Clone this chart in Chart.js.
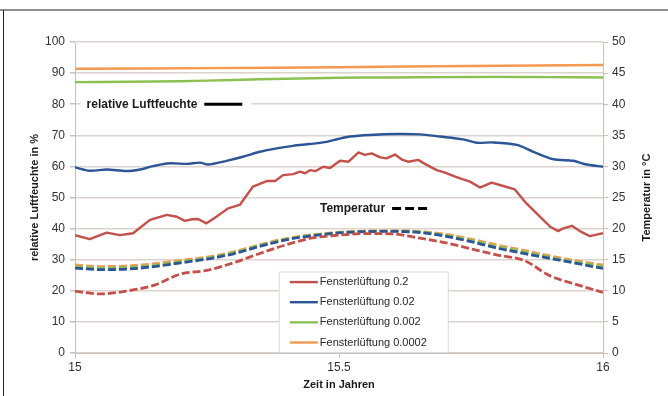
<!DOCTYPE html>
<html>
<head>
<meta charset="utf-8">
<script src="https://cdn.jsdelivr.net/npm/chart.js@4.4.1/dist/chart.umd.min.js"></script>
<style>
  html, body { margin: 0; padding: 0; background: #ffffff; }
  #wrap { width: 668px; height: 396px; position: relative; }
</style>
</head>
<body>
<div id="wrap"><canvas id="c" width="668" height="396"></canvas></div>
<script>
// Time axis in years
const xTicks = [15, 15.5, 16];
const seriesLabels = ['Fensterlüftung 0.2', 'Fensterlüftung 0.02', 'Fensterlüftung 0.002', 'Fensterlüftung 0.0002'];
const seriesColors = ['#c4504a', '#2c5596', '#8cc152', '#f39a50'];

// Relative humidity in % (left axis)
const rhRedYears = [15.000, 15.028, 15.060, 15.085, 15.110, 15.142, 15.174, 15.193, 15.208, 15.222, 15.233, 15.249, 15.265, 15.290, 15.312, 15.337, 15.363, 15.379, 15.394, 15.413, 15.426, 15.436, 15.445, 15.456, 15.470, 15.483, 15.502, 15.518, 15.537, 15.549, 15.562, 15.578, 15.590, 15.606, 15.619, 15.631, 15.650, 15.666, 15.685, 15.701, 15.720, 15.735, 15.748, 15.767, 15.789, 15.811, 15.833, 15.855, 15.881, 15.900, 15.915, 15.925, 15.941, 15.956, 15.975, 15.994, 16.000];
const rhRed = [37.9, 36.6, 38.7, 37.9, 38.5, 42.8, 44.4, 43.8, 42.5, 43.0, 43.1, 41.7, 43.5, 46.5, 47.6, 53.5, 55.3, 55.3, 57.2, 57.5, 58.3, 57.8, 58.8, 58.5, 59.9, 59.5, 61.8, 61.5, 64.5, 63.7, 64.2, 62.9, 62.6, 63.8, 62.2, 61.5, 62.1, 60.5, 58.8, 58.0, 56.7, 55.8, 55.1, 53.2, 54.8, 53.7, 52.6, 48.1, 43.8, 40.6, 39.2, 40.1, 40.9, 39.2, 37.6, 38.3, 38.5];

const rhBlueYears = [15.000, 15.028, 15.060, 15.098, 15.123, 15.148, 15.180, 15.212, 15.237, 15.252, 15.287, 15.318, 15.350, 15.382, 15.413, 15.445, 15.477, 15.498, 15.521, 15.559, 15.609, 15.653, 15.691, 15.735, 15.761, 15.792, 15.837, 15.868, 15.906, 15.944, 15.969, 16.000];
const rhBlue = [59.7, 58.6, 59.0, 58.5, 59.0, 60.1, 61.0, 60.8, 61.2, 60.6, 61.8, 63.1, 64.7, 65.8, 66.6, 67.2, 67.9, 68.8, 69.6, 70.1, 70.4, 70.3, 69.6, 68.7, 67.6, 67.7, 66.9, 64.7, 62.3, 61.8, 60.6, 59.9];

const rhGreenYears = [15.0, 15.1, 15.2, 15.3, 15.4, 15.5, 15.6, 15.7, 15.8, 15.9, 16.0];
const rhGreen = [87.1, 87.2, 87.4, 87.8, 88.2, 88.5, 88.6, 88.7, 88.8, 88.7, 88.6];

const rhOrangeYears = [15.0, 15.25, 15.5, 15.75, 16.0];
const rhOrange = [91.4, 91.6, 91.9, 92.3, 92.6];

// Temperature in °C (right axis)
const tempYears = [15.00, 15.05, 15.10, 15.15, 15.20, 15.25, 15.30, 15.35, 15.40, 15.45, 15.50, 15.55, 15.60, 15.65, 15.70, 15.75, 15.80, 15.85, 15.90, 15.95, 16.00];
const tempRed = [9.9, 9.5, 10.0, 10.9, 12.7, 13.3, 14.5, 16.0, 17.4, 18.5, 18.95, 19.2, 19.15, 18.5, 17.75, 16.75, 15.75, 14.9, 12.4, 11.0, 9.75];
const tempBlue = [13.65, 13.4, 13.5, 13.9, 14.5, 15.1, 15.95, 17.15, 18.2, 18.85, 19.3, 19.5, 19.55, 19.4, 18.8, 17.9, 16.85, 16.0, 15.2, 14.4, 13.6];
const tempGreen = [13.9, 13.65, 13.75, 14.1, 14.7, 15.25, 16.1, 17.3, 18.3, 18.95, 19.35, 19.55, 19.6, 19.5, 18.95, 18.1, 17.1, 16.25, 15.4, 14.6, 13.9];
const tempOrange = [14.15, 13.9, 14.0, 14.35, 14.9, 15.4, 16.25, 17.4, 18.4, 19.0, 19.4, 19.6, 19.65, 19.55, 19.1, 18.3, 17.35, 16.5, 15.6, 14.8, 14.15];

const pts = (xs, ys) => xs.map((x, i) => ({ x: x, y: ys[i] }));

const rhSets = [[rhRedYears, rhRed], [rhBlueYears, rhBlue], [rhGreenYears, rhGreen], [rhOrangeYears, rhOrange]];
const tempSets = [tempRed, tempBlue, tempGreen, tempOrange];

const datasets = [];
rhSets.forEach((s, i) => {
  datasets.push({
    label: seriesLabels[i],
    data: pts(s[0], s[1]),
    yAxisID: 'y',
    borderColor: seriesColors[i],
    borderWidth: 2.4,
    pointRadius: 0,
    tension: i === 0 ? 0 : 0.3,
    borderJoinStyle: 'round',
    fill: false
  });
});
tempSets.forEach((vals, i) => {
  datasets.push({
    label: seriesLabels[i] + ' T',
    data: pts(tempYears, vals),
    yAxisID: 'y2',
    borderColor: seriesColors[i],
    borderWidth: 2.8,
    borderDash: [8, 3],
    pointRadius: 0,
    cubicInterpolationMode: 'monotone',
    fill: false
  });
});

const gridColor = '#ddd3cd';
const textColor = '#333333';

// Frame, notes and the in-plot legend
const decor = {
  id: 'decor',
  beforeDraw(chart) {
    const ctx = chart.ctx;
    ctx.save();
    ctx.fillStyle = '#ffffff';
    ctx.fillRect(0, 0, chart.width, chart.height);
    ctx.fillStyle = '#8f8f8f';
    ctx.fillRect(0, 9, chart.width, 2);
    ctx.fillStyle = '#222222';
    ctx.fillRect(3, 10, 1, chart.height - 10);
    ctx.restore();
  },
  afterDatasetsDraw(chart) {
    const ctx = chart.ctx;
    const xs = chart.scales.x, ys = chart.scales.y;
    ctx.save();
    ctx.textBaseline = 'middle';
    ctx.fillStyle = textColor;

    // humidity note
    const ny = ys.getPixelForValue(80);
    const nx = xs.getPixelForValue(15.022);
    ctx.font = 'bold 12px "Liberation Sans", Arial, sans-serif';
    const w1 = ctx.measureText('relative Luftfeuchte').width;
    ctx.fillStyle = '#ffffff';
    ctx.fillRect(nx - 6, ny - 3, w1 + 60, 6);
    ctx.fillStyle = '#1a1a1a';
    ctx.fillText('relative Luftfeuchte', nx, ny);
    ctx.strokeStyle = '#000000';
    ctx.lineWidth = 3;
    ctx.beginPath();
    ctx.moveTo(nx + w1 + 7, ny);
    ctx.lineTo(nx + w1 + 45, ny);
    ctx.stroke();

    // temperature note
    const ty = ys.getPixelForValue(46.5);
    const tx = xs.getPixelForValue(15.464);
    const w2 = ctx.measureText('Temperatur').width;
    ctx.fillText('Temperatur', tx, ty);
    ctx.setLineDash([9, 4]);
    ctx.beginPath();
    ctx.moveTo(tx + w2 + 7, ty);
    ctx.lineTo(tx + w2 + 43, ty);
    ctx.stroke();
    ctx.setLineDash([]);

    // legend box
    const lx = xs.getPixelForValue(15.386), lr = xs.getPixelForValue(15.706);
    const lt = ys.getPixelForValue(26.2), lb = ys.getPixelForValue(0.3);
    ctx.fillStyle = '#ffffff';
    ctx.fillRect(lx, lt, lr - lx, lb - lt);
    ctx.strokeStyle = '#dcdcdc';
    ctx.lineWidth = 1;
    ctx.strokeRect(lx + 0.5, lt + 0.5, lr - lx, lb - lt);
    ctx.font = '11px "Liberation Sans", Arial, sans-serif';
    const rowH = (lb - lt) / 4;
    seriesLabels.forEach((lab, i) => {
      const ry = lt + rowH * (i + 0.5) + 0.5;
      ctx.strokeStyle = seriesColors[i];
      ctx.lineWidth = 2.4;
      ctx.beginPath();
      ctx.moveTo(lx + 11, ry);
      ctx.lineTo(lx + 39, ry);
      ctx.stroke();
      ctx.fillStyle = '#262626';
      ctx.fillText(lab, lx + 41, ry);
    });

    // right axis title, reading bottom to top
    const r = chart.scales.y2;
    ctx.font = 'bold 11px "Liberation Sans", Arial, sans-serif';
    ctx.fillStyle = '#1a1a1a';
    ctx.translate(r.right - 21, (chart.chartArea.top + chart.chartArea.bottom) / 2);
    ctx.rotate(-Math.PI / 2);
    ctx.textAlign = 'center';
    ctx.fillText('Temperatur in °C', 0, 0);
    ctx.restore();
  }
};

new Chart(document.getElementById('c'), {
  type: 'line',
  data: { datasets: datasets },
  plugins: [decor],
  options: {
    responsive: false,
    animation: false,
    devicePixelRatio: 1,
    layout: { padding: { top: 42, left: 0, right: 0, bottom: 0 } },
    plugins: { legend: { display: false }, tooltip: { enabled: false } },
    scales: {
      x: {
        type: 'linear',
        min: 15, max: 16,
        afterBuildTicks: (s) => { s.ticks = xTicks.map(v => ({ value: v })); },
        afterFit: (s) => { s.height = 43; },
        ticks: {
          padding: 2,
          color: textColor,
          font: { family: '"Liberation Sans", Arial, sans-serif', size: 12 },
          maxRotation: 0,
          callback: (v) => String(v)
        },
        grid: { drawOnChartArea: false, drawTicks: true, tickLength: 5, color: '#c9c0bb' },
        border: { color: '#c9c0bb' },
        title: {
          display: true,
          text: 'Zeit in Jahren',
          color: '#1a1a1a',
          font: { family: '"Liberation Sans", Arial, sans-serif', size: 11, weight: 'bold' },
          padding: { top: 0, bottom: 4 }
        }
      },
      y: {
        position: 'left',
        min: 0, max: 100,
        afterFit: (s) => { s.width = 75; },
        ticks: {
          stepSize: 10,
          padding: 5,
          color: textColor,
          font: { family: '"Liberation Sans", Arial, sans-serif', size: 12 }
        },
        grid: { color: gridColor, lineWidth: 1.5, tickLength: 5, tickColor: '#c9c0bb' },
        border: { color: '#c9c0bb' },
        title: {
          display: true,
          text: 'relative Luftfeuchte in %',
          color: '#1a1a1a',
          font: { family: '"Liberation Sans", Arial, sans-serif', size: 11, weight: 'bold' },
          padding: { top: 28, bottom: 0 }
        }
      },
      y2: {
        position: 'right',
        min: 0, max: 50,
        afterFit: (s) => { s.width = 65; },
        ticks: {
          stepSize: 5,
          padding: 4,
          color: textColor,
          font: { family: '"Liberation Sans", Arial, sans-serif', size: 12 }
        },
        grid: { drawOnChartArea: false, tickLength: 5, color: '#c9c0bb' },
        border: { color: '#c9c0bb' }
      }
    }
  }
});
</script>
</body>
</html>
